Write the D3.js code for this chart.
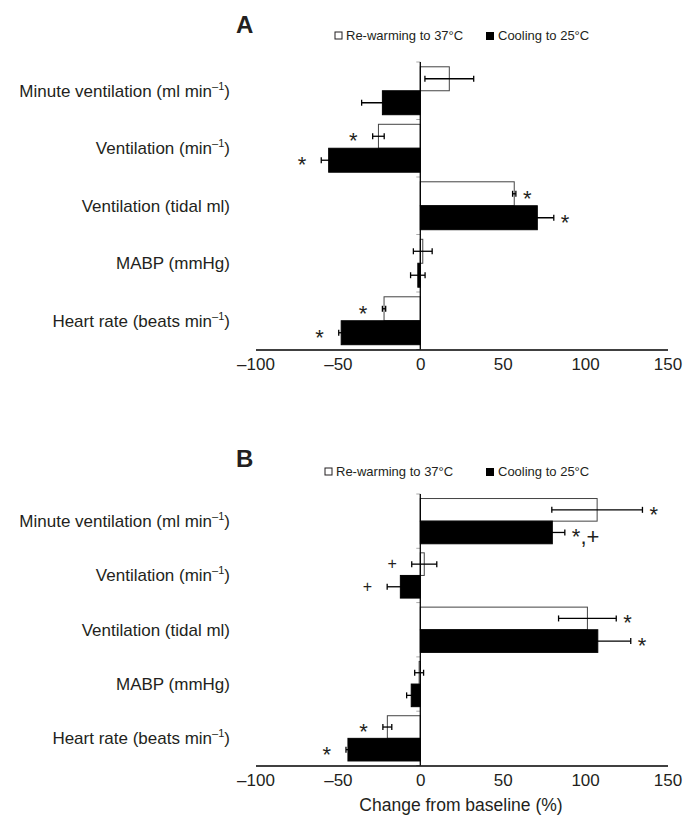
<!DOCTYPE html>
<html>
<head>
<meta charset="utf-8">
<script src="https://cdn.jsdelivr.net/npm/d3@7"></script>
<style>
  body { margin: 0; background: #fff; }
  svg { display: block; font-family: "Liberation Sans", Arial, sans-serif; }
</style>
</head>
<body>
<div id="chart"></div>
<script>
// categories, top to bottom ("^" marks a superscript)
const categories = ['Minute ventilation (ml min^–1)', 'Ventilation (min^–1)', 'Ventilation (tidal ml)', 'MABP (mmHg)', 'Heart rate (beats min^–1)'];
const seriesNames = ['Re-warming to 37°C', 'Cooling to 25°C'];
const xTicks = [-100, -50, 0, 50, 100, 150];

// Panel A
const rewarmA = [17.6, -25.4, 57, 1.5, -22];
const rewarmErrA = [14.8, 3.5, 1, 5.7, 1];
const rewarmSigA = ['', '*', '*', '', '*'];
const coolA = [-23, -55.6, 71, -1.5, -48];
const coolErrA = [12.6, 4.5, 10, 4.4, 1.5];
const coolSigA = ['', '*', '*', '', '*'];

// Panel B
const rewarmB = [107.3, 2.4, 101.4, -0.7, -20];
const rewarmErrB = [27.5, 7.6, 17.5, 2.7, 2.7];
const rewarmSigB = ['*', '+', '*', '', '*'];
const coolB = [80.1, -12.1, 107.7, -5.5, -43.9];
const coolErrB = [7.6, 8, 20, 2.8, 1.2];
const coolSigB = ['*,+', '+', '*', '', '*'];

const W = 685, H = 815;
const ink = '#231f20';

let svg = d3.select('#chart').append('svg')
  .attr('width', W)
  .attr('height', H);

// shared x scale
let x = d3.scaleLinear().domain([-100, 150]).range([255.5, 667.5]);

function drawPanel(p) {
  let g = svg.append('g');

  let y = d3.scaleBand().domain(d3.range(categories.length)).range([p.top, p.bottom]);
  let ySub = d3.scaleBand().domain([0, 1]).range([0, y.bandwidth()]).paddingOuter(0.2);

  // panel letter
  g.append('text')
    .attr('x', 236).attr('y', p.letterY)
    .attr('font-size', 24).attr('font-weight', 'bold').attr('fill', ink)
    .text(p.letter);

  // legend
  let leg = g.append('g').attr('transform', 'translate(' + p.legendX + ',' + p.legendY + ')');
  leg.append('rect').attr('x', 0).attr('y', -4).attr('width', 7).attr('height', 7)
    .attr('fill', '#fff').attr('stroke', ink).attr('stroke-width', 1);
  leg.append('text').attr('x', 11).attr('y', 4).attr('font-size', 13).attr('fill', ink).text(seriesNames[0]);
  leg.append('rect').attr('x', p.legendGap).attr('y', -4).attr('width', 8).attr('height', 8)
    .attr('fill', '#000');
  leg.append('text').attr('x', p.legendGap + 12).attr('y', 4).attr('font-size', 13).attr('fill', ink).text(seriesNames[1]);

  // category labels
  categories.forEach((c, i) => {
    let parts = c.split(/\^(–1)/);
    let t = g.append('text')
      .attr('x', 230)
      .attr('y', y(i) + y.bandwidth() / 2 + 6)
      .attr('text-anchor', 'end')
      .attr('font-size', 17)
      .attr('fill', ink);
    t.append('tspan').text(parts[0]);
    if (parts.length > 1) {
      t.append('tspan').attr('font-size', 11).attr('dy', -7).text(parts[1]);
      t.append('tspan').attr('dy', 7).text(parts[2]);
    }
  });

  // small ticks on the zero line at band edges
  let edges = d3.range(categories.length).map(i => y(i)).concat([p.bottom]);
  g.selectAll('.ytick').data(edges).enter().append('line')
    .attr('x1', x(0) - 4).attr('x2', x(0))
    .attr('y1', d => d).attr('y2', d => d)
    .attr('stroke', '#aaa').attr('stroke-width', 1);

  let series = [
    {vals: p.rewarm, errs: p.rewarmErr, sig: p.rewarmSig, fill: '#fff', stroke: '#444'},
    {vals: p.cool, errs: p.coolErr, sig: p.coolSig, fill: '#000', stroke: '#000'}
  ];

  // marks go on the side of the larger bar in each category
  let side = categories.map((c, i) =>
    Math.abs(p.rewarm[i]) > Math.abs(p.cool[i]) ? Math.sign(p.rewarm[i]) : Math.sign(p.cool[i]));

  series.forEach((s, k) => {
    let rows = s.vals.map((v, i) => ({i: i, v: v, e: s.errs[i], sig: s.sig[i], side: side[i]}));
    let yy = d => y(d.i) + ySub(k);
    let bh = ySub.bandwidth();

    // bars
    g.selectAll('.bar' + k).data(rows).enter().append('rect')
      .attr('x', d => x(Math.min(0, d.v)))
      .attr('y', yy)
      .attr('width', d => Math.abs(x(d.v) - x(0)))
      .attr('height', bh)
      .attr('fill', s.fill)
      .attr('stroke', s.stroke)
      .attr('stroke-width', 1);

    // error bars
    let eb = g.selectAll('.err' + k).data(rows).enter().append('g')
      .attr('stroke', '#000').attr('stroke-width', 1.3);
    eb.append('line')
      .attr('x1', d => x(d.v - d.e)).attr('x2', d => x(d.v + d.e))
      .attr('y1', d => yy(d) + bh / 2).attr('y2', d => yy(d) + bh / 2);
    eb.append('line')
      .attr('x1', d => x(d.v - d.e)).attr('x2', d => x(d.v - d.e))
      .attr('y1', d => yy(d) + bh / 2 - 3).attr('y2', d => yy(d) + bh / 2 + 3);
    eb.append('line')
      .attr('x1', d => x(d.v + d.e)).attr('x2', d => x(d.v + d.e))
      .attr('y1', d => yy(d) + bh / 2 - 3).attr('y2', d => yy(d) + bh / 2 + 3);

    // significance marks
    g.selectAll('.sig' + k).data(rows.filter(d => d.sig)).enter().append('text')
      .attr('x', d => d.side > 0 ? x(d.v + d.e) + 7 : x(d.v - d.e) - 15)
      .attr('y', d => yy(d) + bh / 2 + (d.sig === '+' ? 5 : 12))
      .attr('text-anchor', d => d.side > 0 ? 'start' : 'end')
      .attr('font-size', d => d.sig === '+' ? 16 : 22)
      .attr('fill', ink)
      .text(d => d.sig);
  });

  // zero line
  g.append('line')
    .attr('x1', x(0)).attr('x2', x(0))
    .attr('y1', p.top).attr('y2', p.bottom)
    .attr('stroke', '#000').attr('stroke-width', 1.3);

  // x axis
  let ax = g.append('g')
    .attr('transform', 'translate(0,' + p.bottom + ')')
    .call(d3.axisBottom(x).tickValues(xTicks).tickSize(0).tickPadding(8)
      .tickFormat(d => d < 0 ? '–' + Math.abs(d) : d));
  ax.select('.domain').attr('stroke', '#000').attr('stroke-width', 1.3);
  ax.selectAll('text').attr('font-size', 17).attr('fill', ink)
    .attr('font-family', '"Liberation Sans", Arial, sans-serif');
}

drawPanel({
  letter: 'A', letterY: 33, legendX: 335, legendY: 36, legendGap: 151,
  top: 62, bottom: 349.5,
  rewarm: rewarmA, rewarmErr: rewarmErrA, rewarmSig: rewarmSigA,
  cool: coolA, coolErr: coolErrA, coolSig: coolSigA
});

drawPanel({
  letter: 'B', letterY: 467, legendX: 325, legendY: 472, legendGap: 161,
  top: 494, bottom: 765.5,
  rewarm: rewarmB, rewarmErr: rewarmErrB, rewarmSig: rewarmSigB,
  cool: coolB, coolErr: coolErrB, coolSig: coolSigB
});

// x axis title
svg.append('text')
  .attr('x', 461).attr('y', 811)
  .attr('text-anchor', 'middle')
  .attr('font-size', 17.5)
  .attr('fill', ink)
  .text('Change from baseline (%)');
</script>
</body>
</html>
